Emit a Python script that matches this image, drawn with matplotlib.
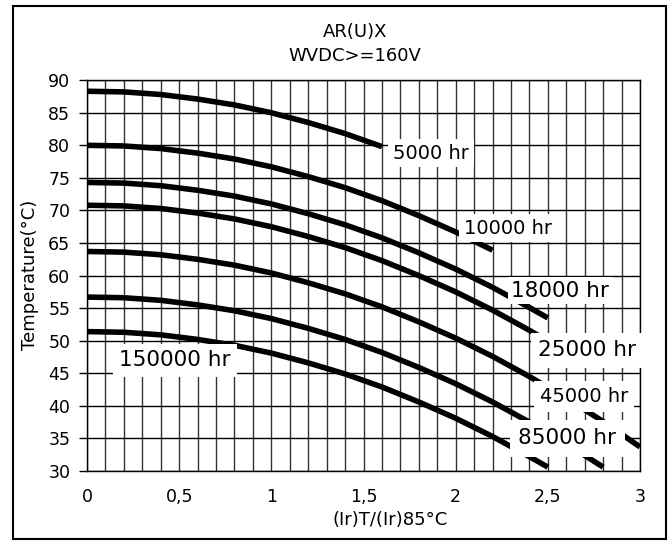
import matplotlib
matplotlib.use('Agg')
import matplotlib.pyplot as plt
from matplotlib.patches import Rectangle

plt.rcParams['font.family'] = ['DejaVu Sans']

# life curves: temperature vs ripple current ratio
x_5000 = [0, 0.2, 0.4, 0.6, 0.8, 1.0, 1.2, 1.4, 1.6]
t_5000 = [88.3, 88.2, 87.8, 87.1, 86.2, 85.0, 83.5, 81.8, 79.8]

x_10000 = [0, 0.2, 0.4, 0.6, 0.8, 1.0, 1.2, 1.4, 1.6, 1.8, 2.0, 2.2]
t_10000 = [80.0, 79.9, 79.5, 78.8, 77.9, 76.7, 75.2, 73.5, 71.5, 69.2, 66.7, 63.9]

x_18000 = [0, 0.2, 0.4, 0.6, 0.8, 1.0, 1.2, 1.4, 1.6, 1.8, 2.0, 2.2, 2.4, 2.5]
t_18000 = [74.3, 74.2, 73.8, 73.1, 72.2, 71.0, 69.5, 67.8, 65.8, 63.5, 61.0, 58.2, 55.1, 53.5]

x_25000 = [0, 0.2, 0.4, 0.6, 0.8, 1.0, 1.2, 1.4, 1.6, 1.8, 2.0, 2.2, 2.4, 2.6]
t_25000 = [70.8, 70.7, 70.3, 69.6, 68.7, 67.5, 66.0, 64.3, 62.3, 60.0, 57.5, 54.7, 51.6, 48.3]

x_45000 = [0, 0.2, 0.4, 0.6, 0.8, 1.0, 1.2, 1.4, 1.6, 1.8, 2.0, 2.2, 2.4, 2.6, 2.8, 3.0]
t_45000 = [63.7, 63.6, 63.2, 62.5, 61.6, 60.4, 58.9, 57.2, 55.2, 52.9, 50.4, 47.6, 44.5, 41.2, 37.6, 33.7]

x_85000 = [0, 0.2, 0.4, 0.6, 0.8, 1.0, 1.2, 1.4, 1.6, 1.8, 2.0, 2.2, 2.4, 2.6, 2.8]
t_85000 = [56.7, 56.6, 56.2, 55.5, 54.6, 53.4, 51.9, 50.2, 48.2, 45.9, 43.4, 40.6, 37.5, 34.2, 30.6]

x_150000 = [0, 0.2, 0.4, 0.6, 0.8, 1.0, 1.2, 1.4, 1.6, 1.8, 2.0, 2.2, 2.4, 2.5]
t_150000 = [51.4, 51.3, 50.9, 50.2, 49.3, 48.1, 46.6, 44.9, 42.9, 40.6, 38.1, 35.3, 32.2, 30.6]

curves = [(x_5000, t_5000), (x_10000, t_10000), (x_18000, t_18000), (x_25000, t_25000),
          (x_45000, t_45000), (x_85000, t_85000), (x_150000, t_150000)]

# label text, position (data coords), font size, white box padding
labels = ['5000 hr', '10000 hr', '18000 hr', '25000 hr', '45000 hr', '85000 hr', '150000 hr']
label_x = [1.866, 2.283, 2.568, 2.714, 2.698, 2.606, 0.477]
label_y = [78.8, 67.3, 57.7, 48.5, 41.4, 35.0, 47.0]
label_size = [14, 14, 15.5, 15.5, 14, 15.5, 15.5]
label_pad = [0.25, 0.25, 0.15, 0.35, 0.3, 0.4, 0.3]

xticks = [0, 0.5, 1, 1.5, 2, 2.5, 3]
xticklabels = ['0', '0,5', '1', '1,5', '2', '2,5', '3']
yticks = list(range(30, 95, 5))

fig = plt.figure(figsize=(6.7, 5.41), dpi=100)
ax = fig.add_axes([0.1299, 0.1294, 0.8253, 0.7224])

for xs, ts in curves:
    ax.plot(xs, ts, color='black', lw=4, solid_capstyle='butt', zorder=3)

for txt, lx, ly, fs, pd in zip(labels, label_x, label_y, label_size, label_pad):
    ax.text(lx, ly, txt, fontsize=fs, ha='center', va='center', zorder=5,
            bbox=dict(facecolor='white', edgecolor='none', boxstyle='square,pad=%s' % pd))

ax.set_xlim(0, 3)
ax.set_ylim(30, 90)
ax.set_xticks(xticks)
ax.set_xticklabels(xticklabels)
ax.set_xticks([i / 10 for i in range(31)], minor=True)
ax.set_yticks(yticks)
ax.grid(True, which='both', axis='x', color='#333333', lw=1)
ax.grid(True, which='major', axis='y', color='black', lw=1)
ax.set_axisbelow(True)
ax.tick_params(axis='x', which='both', length=0, pad=12, labelsize=12.5)
ax.tick_params(axis='y', length=6, width=1, pad=6, labelsize=12.5)
for s in ax.spines.values():
    s.set_linewidth(1)

fig.text(0.530, 0.941, 'AR(U)X', ha='center', va='center', fontsize=13)
fig.text(0.530, 0.897, 'WVDC>=160V', ha='center', va='center', fontsize=13)
fig.text(0.582, 0.0388, '(Ir)T/(Ir)85°C', ha='center', va='center', fontsize=13)
fig.text(0.045, 0.491, 'Temperature(°C)', ha='center', va='center', rotation=90, fontsize=13)

# outer frame
fig.patches.append(Rectangle((0.0194, 0.004), 0.975, 0.985, transform=fig.transFigure,
                             fill=False, edgecolor='black', lw=1.5))

fig.savefig('out.png', dpi=100)
